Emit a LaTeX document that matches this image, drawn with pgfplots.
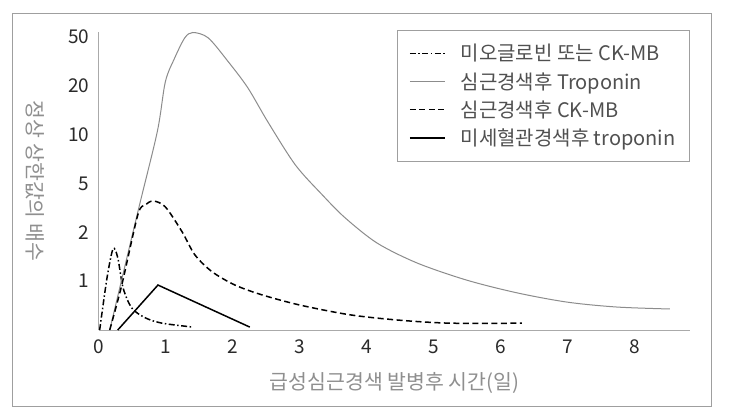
\documentclass[border=0pt]{standalone}
\usepackage{fontspec}
\setmainfont{Noto Sans CJK KR}
\usepackage{pgfplots}
\pgfplotsset{compat=1.18}
\definecolor{axgray}{HTML}{AAAAAA}
\definecolor{trop}{HTML}{8C8C8C}
\definecolor{lblgray}{HTML}{8F8F8F}
\definecolor{txt}{HTML}{2A2A2A}
\definecolor{legtxt}{HTML}{505050}
\begin{document}
\begin{tikzpicture}
\useasboundingbox (0,0) rectangle (729pt,418pt);
\fill[white] (0,0) rectangle (729pt,418pt);
\draw[color=gray!75, line width=0.9pt] (12pt,12pt) rectangle (711pt,405pt);
\begin{axis}[
  at={(99pt,88pt)}, anchor=south west,
  scale only axis, width=591pt, height=298pt,
  xmin=0, xmax=8.82, ymin=0, ymax=6.1,
  axis x line=bottom, axis y line=left,
  axis line style={draw=axgray, line width=1pt, -},
  xtick={0,1,...,8}, ytick={1,2,...,6},
  yticklabels={1,2,5,10,20,50},
  major tick length=0pt,
  /pgf/number format/assume math mode=true,
  tick label style={font=\fontsize{19}{20}\selectfont, text=txt},
  xticklabel style={yshift=-6pt},
  yticklabel style={xshift=-6pt},
  xlabel={급성심근경색 발병후 시간(일)},
  ylabel={정상 상한값의 배수},
  label style={font=\fontsize{20.5}{22}\selectfont, text=lblgray},
  xlabel style={at={(axis description cs:0.5,-0.178)}, anchor=center},
  ylabel style={at={(axis description cs:-0.108,0.5)}, anchor=center, rotate=180},
  legend style={at={(axis description cs:1,1.007)}, anchor=north east,
    draw=gray!75, line width=0.9pt, font=\fontsize{20}{22}\selectfont, text=legtxt,
    inner xsep=12pt, inner ysep=12pt, row sep=6pt, column sep=13pt,
    nodes={inner ysep=2pt}},
  legend cell align=left,
  legend image code/.code={\draw[#1] (0pt,0pt) -- (35pt,0pt);},
  clip=false,
]
\addplot[black, line width=1.5pt, dash pattern=on 6pt off 2.5pt on 1.5pt off 2.5pt, smooth, tension=0.5] coordinates {
  (0.01,0) (0.12,1.07) (0.21,1.66) (0.28,1.48) (0.36,0.86) (0.49,0.45)
  (0.69,0.25) (0.94,0.14) (1.40,0.06)};
\addlegendentry{미오글로빈 또는 CK-MB}
\addplot[trop, line width=1pt, smooth, tension=0.5] coordinates {
  (0.16,0) (0.58,2.42) (0.87,4.06) (0.99,5.08) (1.13,5.57) (1.28,5.98) (1.40,6.09)
  (1.63,5.98) (1.93,5.49) (2.22,4.96) (2.52,4.26) (2.93,3.38) (3.33,2.77) (3.67,2.30)
  (4.15,1.78) (4.75,1.37) (5.49,1.02) (6.24,0.76) (6.99,0.57) (7.73,0.47) (8.52,0.43)};
\addlegendentry{심근경색후 Troponin}
\addplot[black, line width=1.5pt, dash pattern=on 6pt off 3.5pt, smooth, tension=0.5] coordinates {
  (0.16,0) (0.34,0.92) (0.58,2.36) (0.69,2.56) (0.81,2.64) (0.99,2.52) (1.24,2.01)
  (1.43,1.54) (1.69,1.19) (2.03,0.92) (2.43,0.72) (3.0,0.51) (3.75,0.31) (4.49,0.20)
  (5.24,0.14) (6.31,0.14)};
\addlegendentry{심근경색후 CK-MB}
\addplot[black, line width=1.5pt] coordinates {
  (0.28,0) (0.88,0.92) (2.25,0.06)};
\addlegendentry{미세혈관경색후 troponin}
\end{axis}
\end{tikzpicture}
\end{document}
